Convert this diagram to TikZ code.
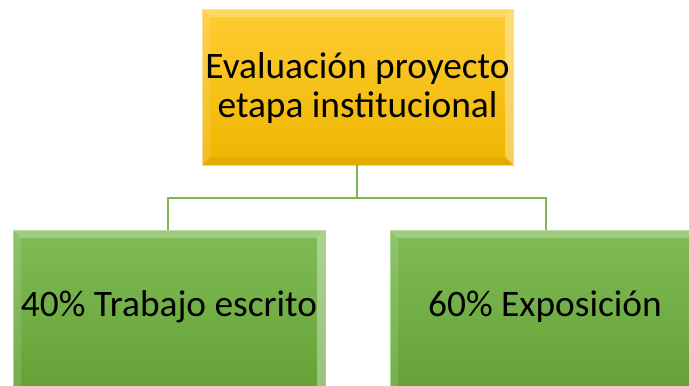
\documentclass[tikz,border=0pt]{standalone}
\usepackage{fontspec}
\setmainfont{Carlito}
\definecolor{ytop}{RGB}{255,204,50}
\definecolor{ybot}{RGB}{238,182,0}
\definecolor{yedge}{RGB}{252,214,140}
\definecolor{gtop}{RGB}{128,188,86}
\definecolor{gbot}{RGB}{98,160,52}
\definecolor{gedge}{RGB}{160,210,130}
\definecolor{gline}{RGB}{124,184,82}
\tikzset{
  boxtxt/.style={font=\fontsize{37.5}{40}\selectfont, align=center, text=black, inner sep=0pt},
  conn/.style={draw=gline, line width=2.6pt},
}
\begin{document}
\begin{tikzpicture}[x=1bp,y=-1bp]
\useasboundingbox (0,0) rectangle (689,385);
\fill[white] (0,0) rectangle (689,385);
\clip (0,0) rectangle (689,385);
% top box
\shade[top color=ytop, bottom color=ybot, draw=yedge, line width=1pt] (202,9) rectangle (513,165);
\fill[white, opacity=0.25] (202,9) -- (513,9) -- (505,17) -- (210,17) -- cycle;
\fill[white, opacity=0.12] (202,9) -- (210,17) -- (210,157) -- (202,165) -- cycle;
\fill[white, opacity=0.35] (513,9) -- (505,17) -- (505,157) -- (513,165) -- cycle;
\fill[black, opacity=0.05] (202,165) -- (210,157) -- (505,157) -- (513,165) -- cycle;
\node[boxtxt] (top) at (357.5,88) {Evaluación proyecto\\etapa institucional};
\coordinate (topb) at (357,165);
% left box
\shade[top color=gtop, bottom color=gbot, draw=gedge, line width=1pt] (13,230) rectangle (325,400);
\fill[white, opacity=0.25] (13,230) -- (325,230) -- (317,238) -- (21,238) -- cycle;
\fill[white, opacity=0.12] (13,230) -- (21,238) -- (21,400) -- (13,400) -- cycle;
\fill[white, opacity=0.35] (325,230) -- (317,238) -- (317,400) -- (325,400) -- cycle;
\node[boxtxt] (left) at (169,307) {40\% Trabajo escrito};
\coordinate (leftt) at (168,230);
% right box
\shade[top color=gtop, bottom color=gbot, draw=gedge, line width=1pt] (390,230) rectangle (700,400);
\fill[white, opacity=0.25] (390,230) -- (700,230) -- (700,238) -- (398,238) -- cycle;
\fill[white, opacity=0.12] (390,230) -- (398,238) -- (398,400) -- (390,400) -- cycle;
\node[boxtxt] (right) at (545,307) {60\% Exposición};
\coordinate (rightt) at (546,230);
% connectors
\coordinate (mid) at (357,198);
\draw[conn] (topb) -- (mid);
\draw[conn] (leftt) |- (mid) -| (rightt);
\end{tikzpicture}
\end{document}
